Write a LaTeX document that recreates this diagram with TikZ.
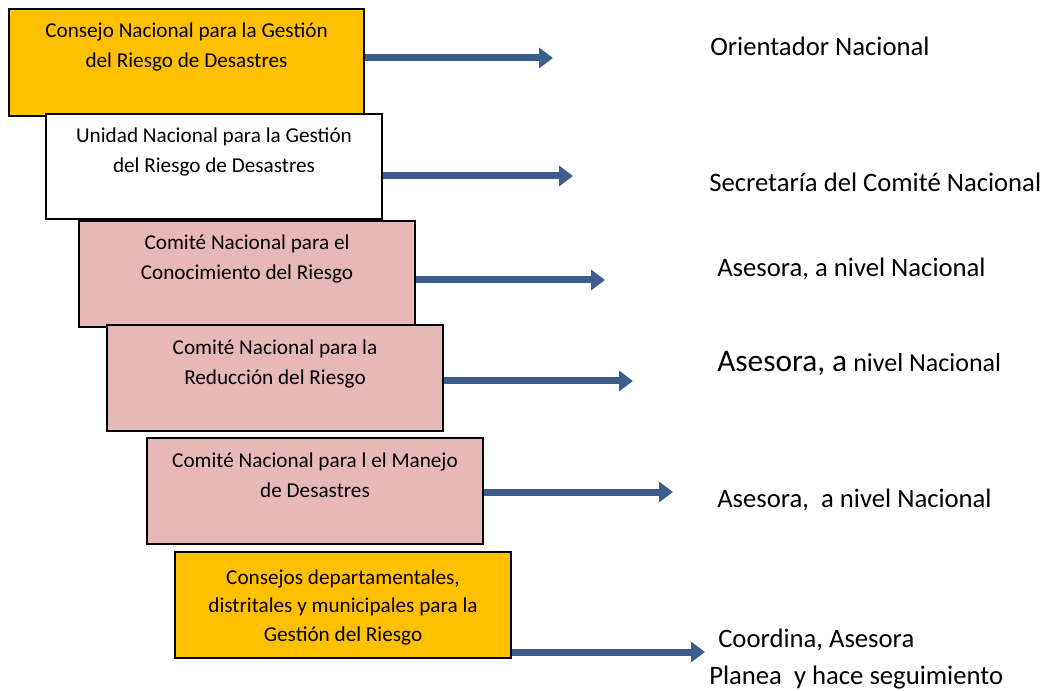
\documentclass[tikz,border=0pt]{standalone}
\usepackage{fontspec}
\setmainfont{Carlito}
\usetikzlibrary{arrows.meta}
\definecolor{oro}{HTML}{FFC000}
\definecolor{rosa}{HTML}{E6B8B7}
\definecolor{flecha}{HTML}{3B5E8C}

\begin{document}
\begin{tikzpicture}[x=0.75pt,y=-0.75pt,
    caja/.style={draw, line width=1.5pt, anchor=north west, minimum width=252pt, minimum height=79.5pt, inner sep=0pt},
    rotulo/.style={anchor=north, align=center, font=\fontsize{15.9}{22.5}\selectfont, yshift=-7.5pt},
    flujo/.style={draw=flecha, line width=5.25pt, -{Triangle[length=10.5pt,width=15pt]}},
    funcion/.style={anchor=base west, inner sep=0pt, font=\fontsize{20}{24}\selectfont}]
    \useasboundingbox (0,0) rectangle (1049,691);
    % cajas
    \node[caja, fill=oro, minimum width=266.25pt, minimum height=80.25pt, label={[rotulo]north:{Consejo Nacional para la Gestión\\del Riesgo de Desastres}}] (c1) at (8,8) {};
    \node[caja, fill=white, minimum height=78.75pt, label={[rotulo]north:{Unidad Nacional para la Gestión\\del Riesgo de Desastres}}] (c2) at (45,113) {};
    \node[caja, fill=rosa, label={[rotulo]north:{Comité Nacional para el\\Conocimiento del Riesgo}}] (c3) at (78,220) {};
    \node[caja, fill=rosa, label={[rotulo, yshift=-1pt]north:{Comité Nacional para la\\Reducción del Riesgo}}] (c4) at (106,324) {};
    \node[caja, fill=rosa, label={[rotulo, yshift=-1pt]north:{Comité Nacional para l el Manejo\\de Desastres}}] (c5) at (146,437) {};
    \node[caja, fill=oro, label={[rotulo, yshift=-3pt, font=\fontsize{15.9}{21.4}\selectfont]north:{Consejos departamentales,\\distritales y municipales para la\\Gestión del Riesgo}}] (c6) at (174,551) {};
    % puntas de flecha
    \coordinate (p1) at (553,58);
    \coordinate (p2) at (573,176);
    \coordinate (p3) at (605,280);
    \coordinate (p4) at (633,381);
    \coordinate (p5) at (673,492);
    \coordinate (p6) at (705,652);
    \foreach \i in {1,...,6}
        \draw[flujo] (c\i.east |- p\i) -- (p\i);
    % funciones
    \node[funcion] (f1) at (710,56) {Orientador Nacional};
    \node[funcion] (f2) at (709,192) {Secretaría del Comité Nacional};
    \node[funcion] (f3) at (717,277) {Asesora, a nivel Nacional};
    \node[funcion] (f4) at (717,372) {{\fontsize{23.5}{28}\selectfont Asesora, a} {\fontsize{19.5}{22}\selectfont nivel Nacional}};
    \node[funcion] (f5) at (717,507) {Asesora,\ \ a nivel Nacional};
    \node[funcion] (f6) at (718,647) {Coordina, Asesora};
    \node[funcion] (f7) at (709,684) {Planea\ \ y hace seguimiento};
\end{tikzpicture}
\end{document}
